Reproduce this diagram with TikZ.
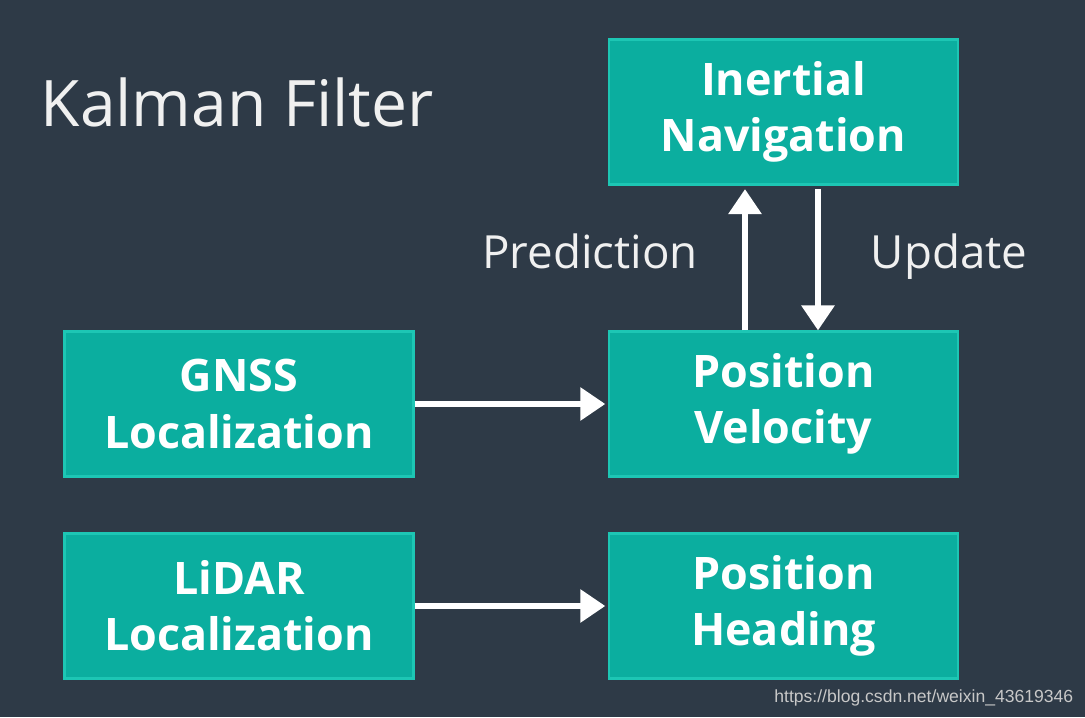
\documentclass[tikz,border=0pt]{standalone}
\usepackage{fontspec}
\setmainfont{Open Sans}
\newfontfamily\wmfont{Liberation Sans}
\usetikzlibrary{arrows.meta}
\definecolor{bgdark}{HTML}{2E3A47}
\definecolor{boxfill}{HTML}{0BAE9F}
\definecolor{boxline}{HTML}{1DC6B4}
\definecolor{wmgray}{HTML}{C8C8C8}
\begin{document}
\begin{tikzpicture}[thick, scale=1, every node/.style={transform shape}]
        \tikzstyle{blk}=[rectangle, draw=boxline, fill=boxfill, line width=1.2pt,
            minimum width=6.98cm, minimum height=2.9cm, align=center, text=white,
            font=\bfseries\fontsize{25.5}{32}\selectfont]
        \tikzstyle{lbl}=[anchor=base, text=white!94!black, font=\fontsize{26}{32}\selectfont]

        \fill[bgdark] (0,0) rectangle (21.7,14.34);

        \node[anchor=base west, inner sep=0, text=white!94!black,
            font=\fontsize{36.5}{44}\selectfont] (TTL) at (0.8,11.8) {Kalman Filter};

        \node[blk] (IN) at (15.67,12.1) {Inertial\\Navigation};
        \node[blk] (PV) at (15.67,6.26) {Position\\Velocity};
        \node[blk] (GN) at (4.78,6.26) {GNSS\\Localization};
        \node[blk] (LI) at (4.78,2.22) {LiDAR\\Localization};
        \node[blk] (PH) at (15.67,2.22) {Position\\Heading};

        \node[lbl] (PRE) at (11.8,8.96) {Prediction};
        \node[lbl] (UPD) at (18.98,8.96) {Update};

        \tikzstyle{late}=[-{Triangle[width=0.64cm,length=0.5cm]}, white, line width=0.12cm]
        \draw[late, shorten >=2pt] ([xshift=-0.77cm]PV.north)--([xshift=-0.77cm]IN.south);
        \draw[late, shorten <=2pt] ([xshift=0.69cm]IN.south)--([xshift=0.69cm]PV.north);
        \draw[late, shorten >=1.5pt] (GN.east)--(PV.west);
        \draw[late, shorten >=1.5pt] (LI.east)--(PH.west);

        \node[anchor=base east, inner sep=0, text=wmgray,
            font=\wmfont\fontsize{10}{12}\selectfont] (WM) at (21.48,0.3)
            {https://blog.csdn.net/weixin\_43619346};
    \end{tikzpicture}
\end{document}
